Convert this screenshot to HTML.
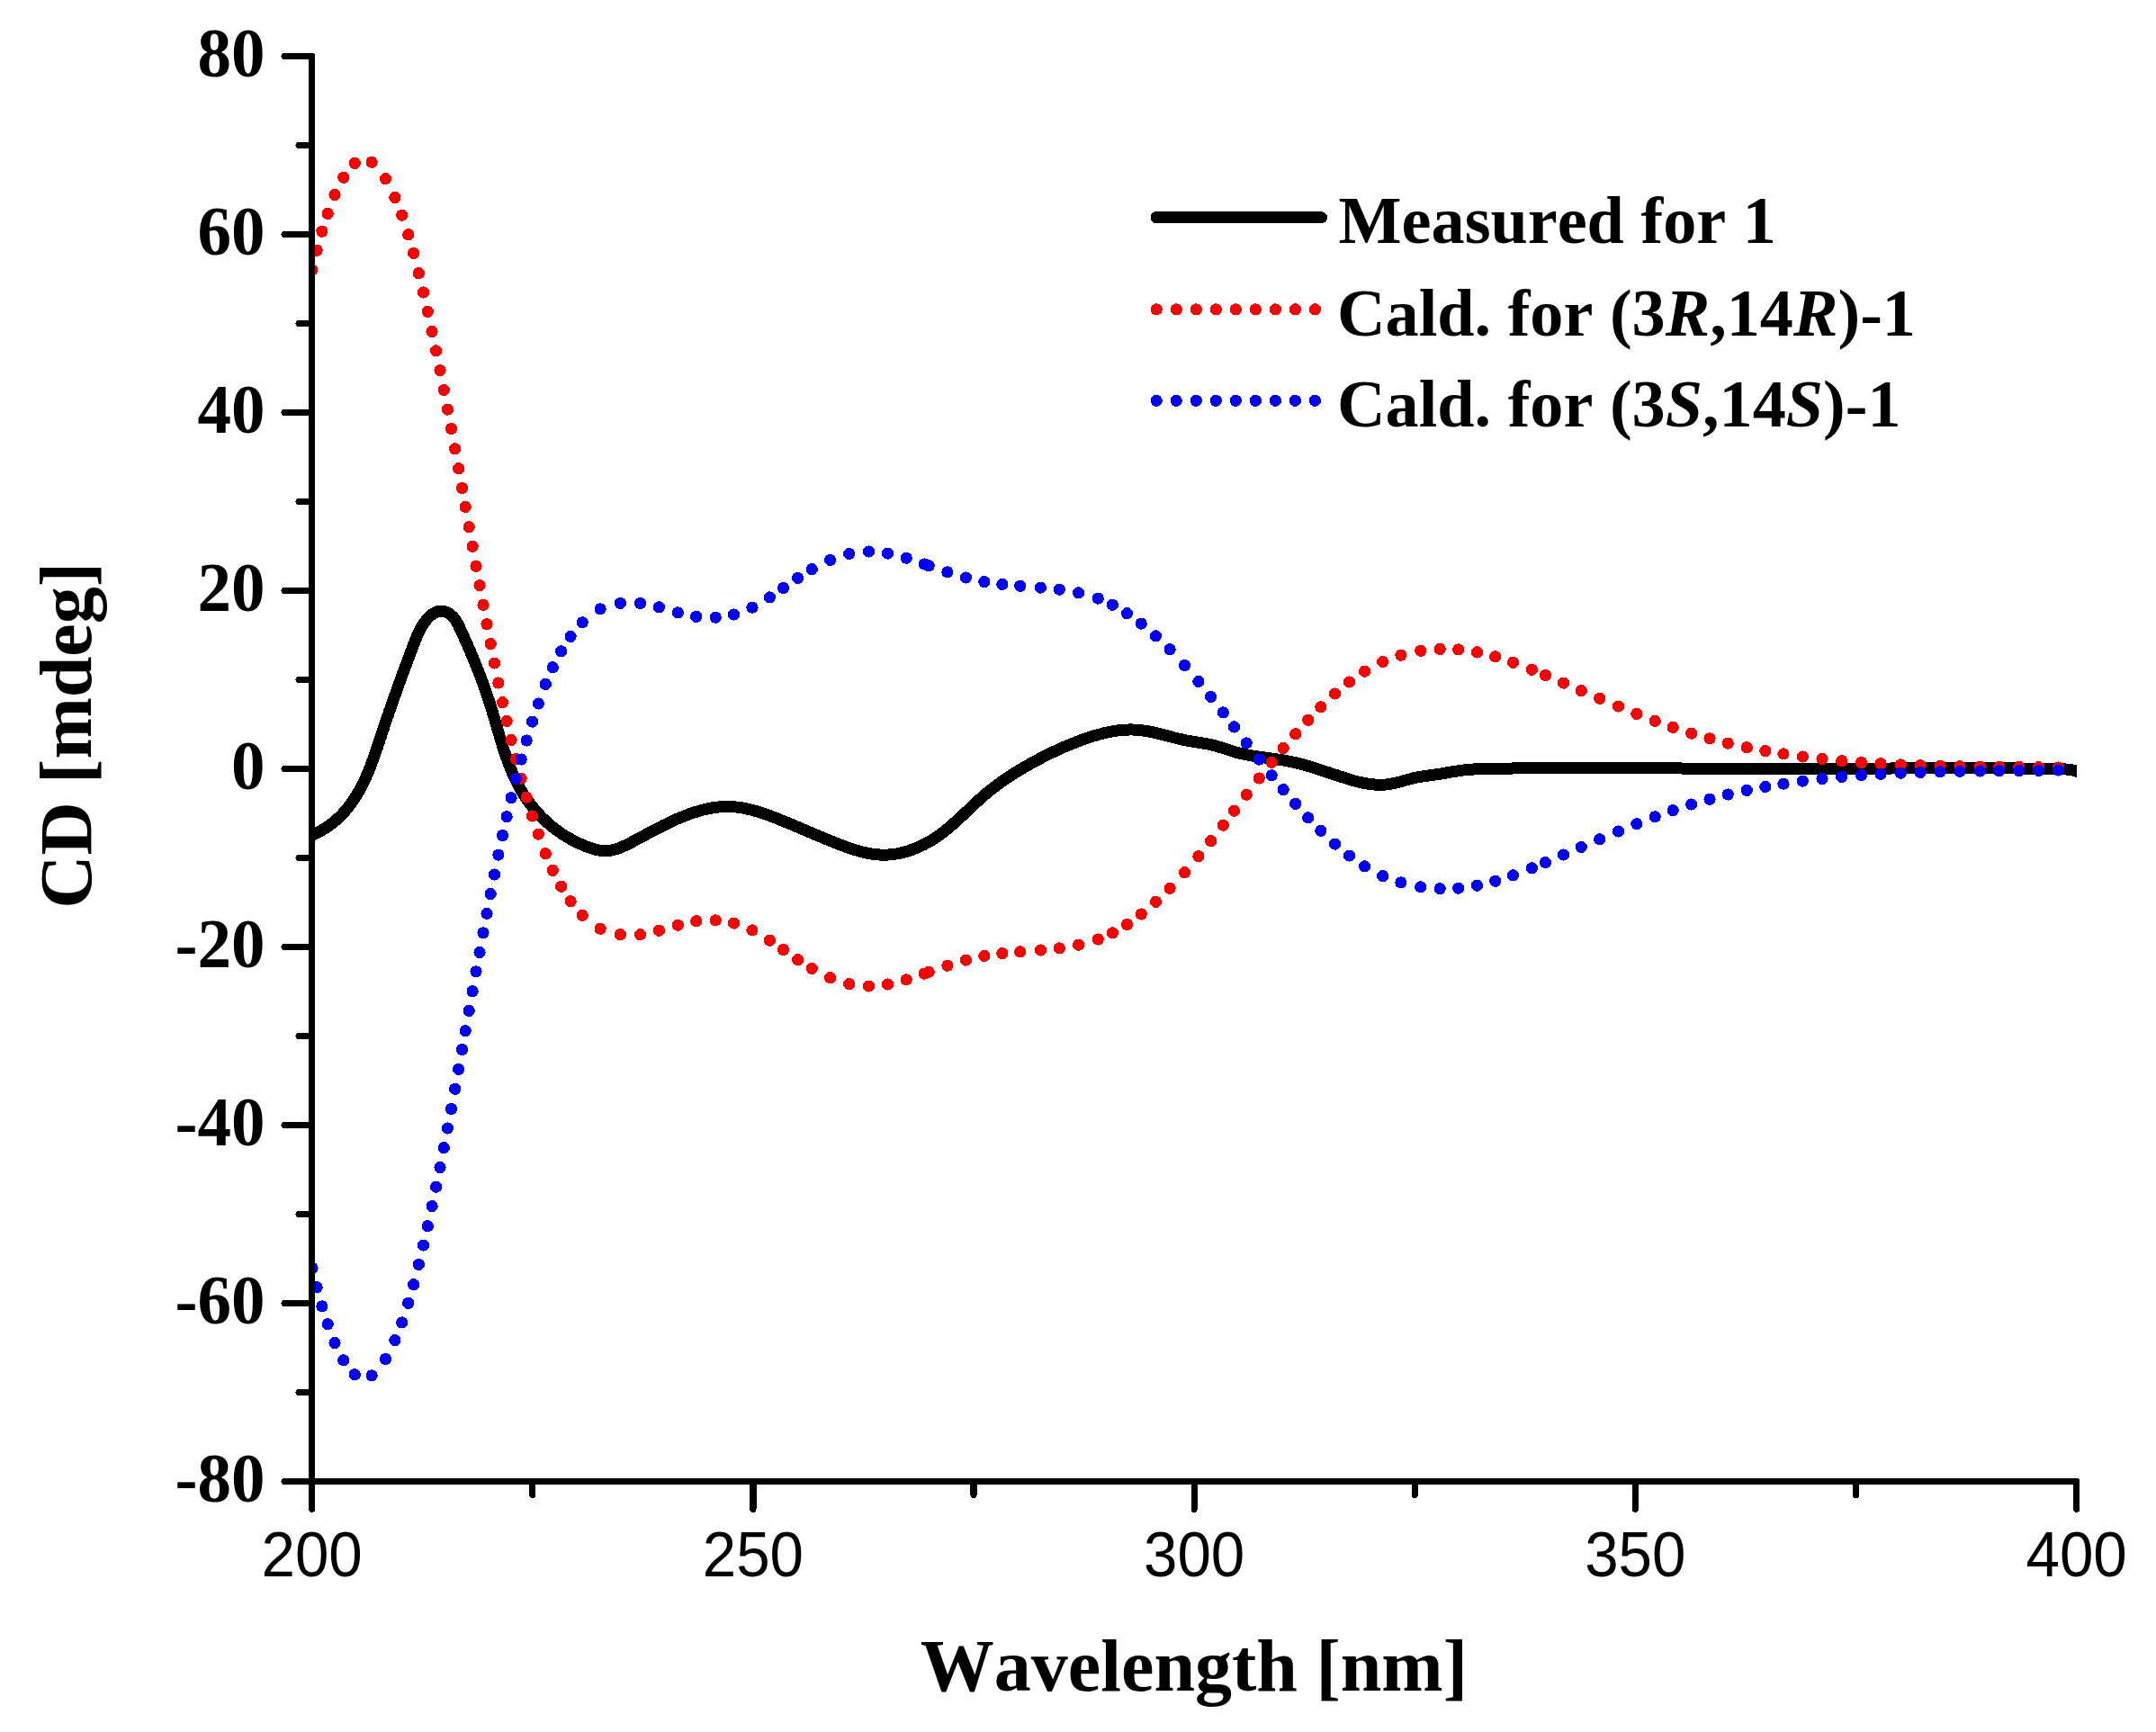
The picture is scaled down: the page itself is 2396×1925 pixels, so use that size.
<!DOCTYPE html>
<html lang="en">
<head>
<meta charset="utf-8">
<title>CD spectrum</title>
<style>
html,body{margin:0;padding:0;background:#fff;}
body{width:2396px;height:1925px;overflow:hidden;}
svg{display:block;font-kerning:none;}
.ser{font-family:"Liberation Serif","Times New Roman",Times,serif;font-weight:bold;}
.san{font-family:"Liberation Sans",Arial,Helvetica,sans-serif;}
</style>
</head>
<body>
<svg width="2396" height="1925" viewBox="0 0 2396 1925">
<rect width="2396" height="1925" fill="#fff"/>
<defs><clipPath id="plot"><rect x="346.6" y="40" width="1961.4" height="1640"/></clipPath></defs>
<g clip-path="url(#plot)" shape-rendering="crispEdges">
<path d="M346.2 928.3 L348.2 927.5 L350.1 926.6 L352 925.7 L353.9 924.8 L355.7 923.8 L357.5 922.8 L359.2 921.8 L361 920.8 L362.7 919.7 L364.3 918.6 L365.9 917.5 L367.5 916.3 L369.1 915.1 L370.6 913.9 L372.1 912.7 L373.6 911.4 L375 910.1 L376.4 908.8 L377.8 907.5 L379.2 906.1 L380.5 904.7 L381.8 903.3 L383.1 901.9 L384.3 900.5 L385.5 899 L386.7 897.5 L387.9 896 L389.1 894.5 L390.2 893 L391.3 891.4 L392.4 889.8 L393.4 888.2 L394.5 886.6 L395.5 885 L396.5 883.3 L397.5 881.7 L398.5 880 L399.4 878.3 L400.3 876.6 L401.2 874.9 L402.1 873.2 L403 871.4 L403.9 869.7 L404.7 867.9 L405.5 866.1 L406.4 864.4 L407.2 862.6 L408 860.8 L408.7 858.9 L409.5 857.1 L410.2 855.3 L411 853.5 L411.7 851.6 L412.4 849.8 L413.1 847.9 L413.8 846 L414.5 844.2 L415.2 842.3 L415.9 840.4 L416.6 838.5 L417.2 836.7 L417.9 834.8 L418.5 832.9 L419.2 831 L419.8 829.1 L420.4 827.2 L421.1 825.3 L421.7 823.4 L422.3 821.5 L423 819.6 L423.6 817.7 L424.2 815.8 L424.8 814 L425.4 812.1 L426.1 810.2 L426.7 808.3 L427.3 806.4 L427.9 804.6 L428.5 802.7 L429.2 800.9 L429.8 799 L430.4 797.1 L431.1 795.3 L431.7 793.5 L432.3 791.6 L432.9 789.8 L433.6 787.9 L434.2 786.1 L434.9 784.3 L435.5 782.4 L436.1 780.6 L436.8 778.8 L437.4 777 L438.1 775.1 L438.7 773.3 L439.4 771.5 L440 769.7 L440.7 767.9 L441.3 766 L442 764.2 L442.6 762.4 L443.3 760.6 L443.9 758.8 L444.6 757 L445.3 755.1 L445.9 753.3 L446.6 751.5 L447.2 749.7 L447.9 747.9 L448.6 746 L449.3 744.2 L449.9 742.4 L450.6 740.6 L451.3 738.7 L452 736.9 L452.7 735.1 L453.3 733.3 L454 731.4 L454.7 729.6 L455.4 727.7 L456.1 725.9 L456.8 724.1 L457.5 722.2 L458.2 720.4 L458.9 718.5 L459.6 716.6 L460.3 714.8 L461 712.9 L461.7 711.1 L462.5 709.2 L463.2 707.4 L464 705.5 L464.9 703.7 L465.7 701.9 L466.6 700.1 L467.6 698.4 L468.6 696.6 L469.6 694.9 L470.7 693.2 L471.9 691.6 L473.1 690 L474.4 688.4 L475.8 686.8 L477.2 685.4 L478.7 684.1 L480.2 682.8 L481.8 681.7 L483.4 680.8 L485.1 680.1 L486.8 679.5 L488.6 679.2 L490.4 679.1 L492.2 679.3 L494 679.7 L495.8 680.2 L497.5 681 L499.2 682 L500.7 683.1 L502.1 684.3 L503.5 685.6 L504.7 687.1 L505.9 688.7 L506.9 690.3 L507.9 692 L508.9 693.7 L509.8 695.5 L510.7 697.4 L511.6 699.2 L512.4 701.1 L513.3 702.9 L514.1 704.8 L515 706.6 L515.8 708.4 L516.6 710.3 L517.4 712.1 L518.2 713.9 L519 715.7 L519.8 717.6 L520.6 719.4 L521.4 721.2 L522.2 723 L523 724.8 L523.7 726.6 L524.5 728.4 L525.3 730.2 L526 732 L526.8 733.8 L527.5 735.7 L528.2 737.5 L529 739.3 L529.7 741.1 L530.4 742.9 L531.1 744.7 L531.8 746.5 L532.5 748.3 L533.2 750.1 L533.9 751.9 L534.6 753.7 L535.3 755.5 L535.9 757.3 L536.6 759.1 L537.3 761 L537.9 762.8 L538.6 764.6 L539.2 766.4 L539.9 768.3 L540.5 770.1 L541.1 771.9 L541.7 773.8 L542.3 775.6 L543 777.4 L543.6 779.3 L544.2 781.1 L544.8 783 L545.3 784.9 L545.9 786.7 L546.5 788.6 L547.1 790.5 L547.6 792.3 L548.2 794.2 L548.8 796.1 L549.3 798 L549.9 799.9 L550.4 801.8 L551 803.7 L551.5 805.6 L552.1 807.5 L552.6 809.4 L553.2 811.3 L553.8 813.2 L554.3 815.1 L554.9 817 L555.4 818.9 L556 820.8 L556.6 822.7 L557.2 824.6 L557.7 826.4 L558.3 828.3 L558.9 830.2 L559.5 832.1 L560.1 834 L560.8 835.9 L561.4 837.7 L562 839.6 L562.7 841.5 L563.3 843.3 L564 845.2 L564.7 847 L565.4 848.9 L566.1 850.7 L566.8 852.5 L567.5 854.3 L568.3 856.1 L569 857.9 L569.8 859.7 L570.6 861.5 L571.4 863.3 L572.2 865.1 L573 866.8 L573.9 868.6 L574.8 870.3 L575.7 872 L576.6 873.8 L577.5 875.5 L578.5 877.2 L579.4 878.8 L580.4 880.5 L581.4 882.2 L582.5 883.8 L583.5 885.4 L584.6 887 L585.7 888.6 L586.8 890.2 L588 891.8 L589.1 893.4 L590.3 894.9 L591.5 896.4 L592.8 898 L594 899.4 L595.3 900.9 L596.5 902.4 L597.8 903.8 L599.2 905.3 L600.5 906.7 L601.9 908.1 L603.3 909.5 L604.7 910.8 L606.1 912.2 L607.5 913.5 L609 914.8 L610.4 916.1 L611.9 917.3 L613.4 918.6 L615 919.8 L616.5 921 L618.1 922.2 L619.7 923.4 L621.3 924.5 L622.9 925.6 L624.5 926.7 L626.2 927.8 L627.8 928.9 L629.5 929.9 L631.2 930.9 L632.9 931.9 L634.7 932.9 L636.4 933.8 L638.2 934.8 L639.9 935.7 L641.7 936.5 L643.5 937.4 L645.3 938.2 L647.2 939 L649 939.8 L650.8 940.6 L652.7 941.3 L654.6 942 L656.5 942.6 L658.3 943.2 L660.2 943.8 L662.1 944.3 L664 944.7 L665.9 945 L667.8 945.3 L669.7 945.5 L671.6 945.6 L673.5 945.6 L675.4 945.5 L677.2 945.3 L679.1 945.1 L681 944.7 L682.8 944.2 L684.7 943.7 L686.5 943.1 L688.4 942.4 L690.2 941.7 L692 940.9 L693.9 940.1 L695.7 939.2 L697.5 938.4 L699.3 937.4 L701.1 936.5 L702.9 935.6 L704.6 934.6 L706.4 933.7 L708.2 932.8 L709.9 931.8 L711.7 930.9 L713.4 929.9 L715.1 929 L716.9 928.1 L718.6 927.1 L720.3 926.2 L722.1 925.3 L723.8 924.4 L725.5 923.5 L727.2 922.6 L728.9 921.7 L730.7 920.8 L732.4 919.9 L734.1 919 L735.9 918.1 L737.6 917.2 L739.3 916.4 L741.1 915.5 L742.8 914.7 L744.6 913.9 L746.3 913 L748.1 912.2 L749.8 911.4 L751.6 910.6 L753.4 909.9 L755.2 909.1 L757 908.3 L758.8 907.6 L760.6 906.9 L762.5 906.2 L764.3 905.5 L766.2 904.8 L768 904.1 L769.9 903.5 L771.8 902.9 L773.7 902.3 L775.6 901.7 L777.5 901.1 L779.4 900.6 L781.3 900.1 L783.2 899.6 L785.1 899.2 L787.1 898.8 L789 898.4 L790.9 898 L792.9 897.7 L794.8 897.4 L796.7 897.2 L798.7 897 L800.6 896.8 L802.5 896.6 L804.5 896.5 L806.4 896.5 L808.4 896.5 L810.3 896.5 L812.2 896.6 L814.2 896.7 L816.1 896.8 L818 897 L819.9 897.2 L821.9 897.5 L823.8 897.8 L825.7 898.1 L827.6 898.5 L829.5 898.9 L831.4 899.3 L833.3 899.7 L835.3 900.2 L837.2 900.7 L839.1 901.2 L840.9 901.8 L842.8 902.3 L844.7 902.9 L846.6 903.5 L848.5 904.1 L850.4 904.8 L852.2 905.4 L854.1 906.1 L856 906.8 L857.8 907.5 L859.7 908.2 L861.5 908.9 L863.4 909.6 L865.2 910.4 L867 911.1 L868.9 911.9 L870.7 912.6 L872.5 913.4 L874.3 914.1 L876.1 914.9 L878 915.6 L879.8 916.4 L881.6 917.1 L883.4 917.9 L885.2 918.7 L886.9 919.4 L888.7 920.2 L890.5 920.9 L892.3 921.7 L894.1 922.5 L895.9 923.2 L897.7 924 L899.4 924.7 L901.2 925.5 L903 926.3 L904.8 927 L906.6 927.8 L908.4 928.5 L910.2 929.3 L912 930 L913.8 930.8 L915.6 931.5 L917.4 932.3 L919.2 933 L921 933.8 L922.8 934.5 L924.6 935.3 L926.4 936 L928.3 936.7 L930.1 937.5 L932 938.2 L933.8 938.9 L935.7 939.6 L937.5 940.3 L939.4 941 L941.2 941.7 L943.1 942.3 L945 943 L946.9 943.6 L948.8 944.2 L950.6 944.8 L952.5 945.3 L954.4 945.9 L956.3 946.4 L958.2 946.9 L960.1 947.3 L962 947.8 L964 948.2 L965.9 948.5 L967.8 948.9 L969.7 949.2 L971.6 949.4 L973.5 949.6 L975.5 949.8 L977.4 950 L979.3 950.1 L981.2 950.1 L983.2 950.1 L985.1 950.1 L987 950 L989 949.9 L990.9 949.7 L992.8 949.4 L994.7 949.2 L996.7 948.9 L998.6 948.5 L1000.5 948.1 L1002.4 947.7 L1004.3 947.2 L1006.2 946.7 L1008.1 946.2 L1010 945.6 L1011.8 944.9 L1013.7 944.3 L1015.6 943.6 L1017.4 942.9 L1019.2 942.1 L1021.1 941.3 L1022.9 940.5 L1024.7 939.6 L1026.4 938.8 L1028.2 937.9 L1030 936.9 L1031.7 936 L1033.4 935 L1035.1 934 L1036.8 932.9 L1038.5 931.9 L1040.1 930.8 L1041.8 929.7 L1043.4 928.5 L1045 927.4 L1046.5 926.2 L1048.1 925 L1049.6 923.8 L1051.2 922.6 L1052.7 921.4 L1054.2 920.1 L1055.7 918.9 L1057.2 917.6 L1058.7 916.3 L1060.1 915 L1061.6 913.7 L1063 912.4 L1064.5 911.1 L1065.9 909.8 L1067.3 908.4 L1068.8 907.1 L1070.2 905.8 L1071.6 904.4 L1073 903.1 L1074.5 901.7 L1075.9 900.4 L1077.3 899 L1078.7 897.7 L1080.1 896.3 L1081.5 895 L1083 893.7 L1084.4 892.3 L1085.8 891 L1087.3 889.7 L1088.7 888.4 L1090.2 887.1 L1091.6 885.8 L1093.1 884.5 L1094.6 883.2 L1096.1 881.9 L1097.6 880.7 L1099.1 879.5 L1100.6 878.2 L1102.2 877 L1103.7 875.8 L1105.3 874.6 L1106.8 873.5 L1108.4 872.3 L1110 871.1 L1111.5 870 L1113.1 868.9 L1114.7 867.7 L1116.4 866.6 L1118 865.5 L1119.6 864.4 L1121.2 863.3 L1122.9 862.3 L1124.5 861.2 L1126.2 860.2 L1127.8 859.1 L1129.5 858.1 L1131.2 857 L1132.8 856 L1134.5 855 L1136.2 854 L1137.9 853 L1139.6 852 L1141.3 851.1 L1143 850.1 L1144.7 849.1 L1146.4 848.2 L1148.1 847.2 L1149.9 846.3 L1151.6 845.4 L1153.3 844.4 L1155 843.5 L1156.8 842.6 L1158.5 841.7 L1160.2 840.8 L1162 839.9 L1163.7 839 L1165.5 838.2 L1167.2 837.3 L1169 836.5 L1170.8 835.6 L1172.5 834.8 L1174.3 834 L1176.1 833.1 L1177.8 832.3 L1179.6 831.5 L1181.4 830.7 L1183.2 830 L1185 829.2 L1186.8 828.4 L1188.6 827.7 L1190.4 826.9 L1192.2 826.2 L1194.1 825.5 L1195.9 824.8 L1197.7 824.1 L1199.6 823.4 L1201.4 822.7 L1203.3 822 L1205.1 821.4 L1207 820.7 L1208.8 820.1 L1210.7 819.5 L1212.6 818.9 L1214.5 818.3 L1216.4 817.7 L1218.3 817.2 L1220.2 816.6 L1222.1 816.1 L1224 815.6 L1225.9 815.1 L1227.8 814.6 L1229.7 814.2 L1231.6 813.8 L1233.5 813.4 L1235.5 813 L1237.4 812.7 L1239.3 812.4 L1241.3 812.1 L1243.2 811.8 L1245.1 811.6 L1247.1 811.4 L1249 811.2 L1250.9 811.1 L1252.9 811 L1254.8 811 L1256.7 810.9 L1258.7 811 L1260.6 811 L1262.5 811.1 L1264.5 811.3 L1266.4 811.4 L1268.3 811.6 L1270.2 811.9 L1272.2 812.2 L1274.1 812.5 L1276 812.8 L1277.9 813.2 L1279.9 813.6 L1281.8 814 L1283.7 814.4 L1285.6 814.9 L1287.5 815.4 L1289.5 815.8 L1291.4 816.3 L1293.3 816.8 L1295.2 817.3 L1297.1 817.8 L1299.1 818.3 L1301 818.8 L1302.9 819.3 L1304.8 819.8 L1306.7 820.3 L1308.7 820.8 L1310.6 821.3 L1312.5 821.7 L1314.4 822.1 L1316.4 822.5 L1318.3 822.9 L1320.2 823.3 L1322.1 823.6 L1324.1 824 L1326 824.3 L1327.9 824.6 L1329.8 824.9 L1331.8 825.2 L1333.7 825.5 L1335.6 825.8 L1337.5 826.1 L1339.4 826.4 L1341.3 826.8 L1343.3 827.1 L1345.2 827.5 L1347 828 L1348.9 828.5 L1350.8 829 L1352.7 829.5 L1354.6 830.1 L1356.4 830.6 L1358.3 831.2 L1360.2 831.8 L1362.1 832.5 L1363.9 833.1 L1365.8 833.7 L1367.7 834.3 L1369.6 834.9 L1371.4 835.4 L1373.3 836 L1375.2 836.5 L1377.1 837 L1379 837.5 L1381 837.9 L1382.9 838.3 L1384.8 838.7 L1386.7 839.1 L1388.7 839.5 L1390.6 839.8 L1392.5 840.1 L1394.5 840.4 L1396.4 840.7 L1398.4 841 L1400.3 841.3 L1402.3 841.6 L1404.2 841.8 L1406.2 842.1 L1408.1 842.4 L1410.1 842.6 L1412 842.9 L1414 843.1 L1415.9 843.4 L1417.8 843.7 L1419.8 844 L1421.7 844.3 L1423.7 844.6 L1425.6 844.9 L1427.5 845.2 L1429.4 845.5 L1431.3 845.9 L1433.2 846.3 L1435.2 846.7 L1437.1 847.1 L1438.9 847.5 L1440.8 848 L1442.7 848.4 L1444.6 848.9 L1446.5 849.4 L1448.4 849.9 L1450.2 850.4 L1452.1 851 L1454 851.5 L1455.8 852.1 L1457.7 852.6 L1459.6 853.2 L1461.4 853.8 L1463.3 854.4 L1465.1 855 L1467 855.6 L1468.9 856.2 L1470.7 856.8 L1472.6 857.4 L1474.4 858 L1476.3 858.6 L1478.2 859.2 L1480 859.9 L1481.9 860.5 L1483.8 861.1 L1485.6 861.7 L1487.5 862.4 L1489.4 863 L1491.3 863.6 L1493.2 864.2 L1495.1 864.8 L1496.9 865.4 L1498.8 866 L1500.7 866.6 L1502.6 867.1 L1504.5 867.7 L1506.4 868.2 L1508.3 868.7 L1510.2 869.1 L1512.2 869.6 L1514.1 870 L1516 870.4 L1517.9 870.8 L1519.8 871.1 L1521.7 871.4 L1523.6 871.6 L1525.6 871.8 L1527.5 872 L1529.4 872.1 L1531.3 872.2 L1533.3 872.3 L1535.2 872.2 L1537.1 872.2 L1539 872.1 L1541 871.9 L1542.9 871.7 L1544.8 871.4 L1546.7 871 L1548.7 870.7 L1550.6 870.2 L1552.5 869.8 L1554.5 869.3 L1556.4 868.8 L1558.3 868.2 L1560.2 867.7 L1562.2 867.1 L1564.1 866.6 L1566 866.1 L1567.9 865.6 L1569.9 865.1 L1571.8 864.6 L1573.7 864.2 L1575.6 863.8 L1577.5 863.5 L1579.5 863.2 L1581.4 862.8 L1583.3 862.5 L1585.2 862.3 L1587.1 862 L1589 861.7 L1591 861.5 L1592.9 861.2 L1594.8 860.9 L1596.7 860.7 L1598.7 860.4 L1600.6 860.1 L1602.5 859.8 L1604.5 859.5 L1606.4 859.1 L1608.3 858.8 L1610.3 858.5 L1612.2 858.1 L1614.2 857.8 L1616.1 857.5 L1618.1 857.2 L1620 856.9 L1622 856.6 L1623.9 856.3 L1625.9 856 L1627.8 855.8 L1629.8 855.6 L1631.7 855.4 L1633.7 855.3 L1635.6 855.1 L1637.6 855 L1639.6 854.9 L1641.5 854.8 L1643.5 854.7 L1645.4 854.7 L1647.4 854.6 L1649.3 854.5 L1651.3 854.5 L1653.2 854.5 L1655.2 854.4 L1657.2 854.4 L1659.1 854.3 L1661.1 854.3 L1663 854.3 L1665 854.2 L1666.9 854.2 L1668.9 854.2 L1670.9 854.1 L1672.8 854.1 L1674.8 854.1 L1676.7 854 L1678.7 854 L1680.6 854 L1682.6 853.9 L1684.6 853.9 L1686.5 853.9 L1688.5 853.9 L1690.4 853.8 L1692.4 853.8 L1694.3 853.8 L1696.3 853.8 L1698.3 853.8 L1700.2 853.7 L1702.2 853.7 L1704.1 853.7 L1706.1 853.7 L1708 853.7 L1710 853.7 L1712 853.6 L1713.9 853.6 L1715.9 853.6 L1717.8 853.6 L1719.8 853.6 L1721.7 853.6 L1723.7 853.6 L1725.7 853.6 L1727.6 853.5 L1729.6 853.5 L1731.5 853.5 L1733.5 853.5 L1735.5 853.5 L1737.4 853.5 L1739.4 853.5 L1741.3 853.5 L1743.3 853.5 L1745.3 853.5 L1747.2 853.5 L1749.2 853.5 L1751.1 853.5 L1753.1 853.5 L1755 853.5 L1757 853.5 L1759 853.5 L1760.9 853.5 L1762.9 853.5 L1764.8 853.5 L1766.8 853.5 L1768.8 853.5 L1770.7 853.5 L1772.7 853.5 L1774.6 853.5 L1776.6 853.5 L1778.6 853.5 L1780.5 853.5 L1782.5 853.5 L1784.4 853.5 L1786.4 853.5 L1788.4 853.5 L1790.3 853.5 L1792.3 853.6 L1794.2 853.6 L1796.2 853.6 L1798.2 853.6 L1800.1 853.6 L1802.1 853.6 L1804 853.6 L1806 853.6 L1807.9 853.6 L1809.9 853.6 L1811.9 853.6 L1813.8 853.6 L1815.8 853.7 L1817.7 853.7 L1819.7 853.7 L1821.7 853.7 L1823.6 853.7 L1825.6 853.7 L1827.5 853.7 L1829.5 853.7 L1831.5 853.7 L1833.4 853.8 L1835.4 853.8 L1837.3 853.8 L1839.3 853.8 L1841.3 853.8 L1843.2 853.8 L1845.2 853.8 L1847.1 853.8 L1849.1 853.8 L1851.1 853.9 L1853 853.9 L1855 853.9 L1856.9 853.9 L1858.9 853.9 L1860.9 853.9 L1862.8 853.9 L1864.8 853.9 L1866.7 853.9 L1868.7 854 L1870.7 854 L1872.6 854 L1874.6 854 L1876.5 854 L1878.5 854 L1880.5 854 L1882.4 854 L1884.4 854 L1886.3 854 L1888.3 854.1 L1890.3 854.1 L1892.2 854.1 L1894.2 854.1 L1896.1 854.1 L1898.1 854.1 L1900.1 854.1 L1902 854.1 L1904 854.1 L1905.9 854.1 L1907.9 854.1 L1909.9 854.1 L1911.8 854.1 L1913.8 854.1 L1915.7 854.2 L1917.7 854.2 L1919.7 854.2 L1921.6 854.2 L1923.6 854.2 L1925.5 854.2 L1927.5 854.2 L1929.4 854.2 L1931.4 854.2 L1933.4 854.2 L1935.3 854.2 L1937.3 854.2 L1939.2 854.2 L1941.2 854.2 L1943.2 854.2 L1945.1 854.2 L1947.1 854.2 L1949 854.2 L1951 854.2 L1953 854.2 L1954.9 854.2 L1956.9 854.2 L1958.8 854.2 L1960.8 854.2 L1962.8 854.2 L1964.7 854.2 L1966.7 854.2 L1968.6 854.2 L1970.6 854.2 L1972.5 854.2 L1974.5 854.2 L1976.5 854.2 L1978.4 854.2 L1980.4 854.2 L1982.3 854.2 L1984.3 854.2 L1986.3 854.2 L1988.2 854.2 L1990.2 854.2 L1992.1 854.2 L1994.1 854.2 L1996.1 854.2 L1998 854.2 L2000 854.2 L2001.9 854.2 L2003.9 854.2 L2005.8 854.2 L2007.8 854.2 L2009.8 854.2 L2011.7 854.2 L2013.7 854.2 L2015.6 854.2 L2017.6 854.2 L2019.6 854.2 L2021.5 854.2 L2023.5 854.2 L2025.4 854.2 L2027.4 854.1 L2029.4 854.1 L2031.3 854.1 L2033.3 854.1 L2035.2 854.1 L2037.2 854.1 L2039.2 854.1 L2041.1 854.1 L2043.1 854.1 L2045 854.1 L2047 854.1 L2048.9 854.1 L2050.9 854.1 L2052.9 854.1 L2054.8 854.1 L2056.8 854.1 L2058.7 854.1 L2060.7 854.1 L2062.7 854.1 L2064.6 854.1 L2066.6 854.1 L2068.5 854 L2070.5 854 L2072.5 854 L2074.4 854 L2076.4 854 L2078.3 854 L2080.3 854 L2082.2 854 L2084.2 854 L2086.2 854 L2088.1 854 L2090.1 854 L2092 854 L2094 854 L2096 854 L2097.9 854 L2099.9 854 L2101.8 854 L2103.8 853.9 L2105.8 853.9 L2107.7 853.9 L2109.7 853.9 L2111.6 853.9 L2113.6 853.9 L2115.6 853.9 L2117.5 853.9 L2119.5 853.9 L2121.4 853.9 L2123.4 853.9 L2125.4 853.9 L2127.3 853.9 L2129.3 853.9 L2131.2 853.9 L2133.2 853.9 L2135.2 853.9 L2137.1 853.9 L2139.1 853.9 L2141 853.9 L2143 853.8 L2144.9 853.8 L2146.9 853.8 L2148.9 853.8 L2150.8 853.8 L2152.8 853.8 L2154.7 853.8 L2156.7 853.8 L2158.7 853.8 L2160.6 853.8 L2162.6 853.8 L2164.5 853.8 L2166.5 853.8 L2168.5 853.8 L2170.4 853.8 L2172.4 853.8 L2174.3 853.8 L2176.3 853.8 L2178.3 853.8 L2180.2 853.8 L2182.2 853.8 L2184.1 853.8 L2186.1 853.8 L2188.1 853.8 L2190 853.8 L2192 853.8 L2193.9 853.8 L2195.9 853.8 L2197.9 853.8 L2199.8 853.8 L2201.8 853.8 L2203.7 853.8 L2205.7 853.8 L2207.7 853.8 L2209.6 853.8 L2211.6 853.8 L2213.5 853.8 L2215.5 853.8 L2217.5 853.8 L2219.4 853.8 L2221.4 853.8 L2223.3 853.8 L2225.3 853.8 L2227.3 853.8 L2229.2 853.8 L2231.2 853.9 L2233.1 853.9 L2235.1 853.9 L2237.1 853.9 L2239 853.9 L2241 853.9 L2242.9 853.9 L2244.9 854 L2246.9 854 L2248.8 854 L2250.8 854 L2252.7 854.1 L2254.7 854.1 L2256.6 854.1 L2258.6 854.1 L2260.6 854.2 L2262.5 854.2 L2264.5 854.2 L2266.4 854.2 L2268.4 854.3 L2270.3 854.3 L2272.3 854.4 L2274.3 854.4 L2276.2 854.4 L2278.2 854.5 L2280.1 854.5 L2282.1 854.6 L2284 854.6 L2286 854.7 L2287.9 854.7 L2289.9 854.8 L2291.9 854.8 L2293.8 854.9 L2295.8 855 L2297.7 855.2 L2299.6 855.4 L2301.6 855.7 L2303.5 856 L2305.4 856.4 L2307.3 856.9 L2309.2 857.6 L2311.1 858.3 L2313 859.1" fill="none" stroke="#000" stroke-width="13" stroke-linejoin="round" stroke-linecap="butt"/>
<g fill="#f00"><circle cx="347" cy="300" r="6.6"/><circle cx="352.1" cy="278.3" r="6.6"/><circle cx="357.9" cy="257.2" r="6.6"/><circle cx="364.2" cy="237.4" r="6.6"/><circle cx="372" cy="216.5" r="6.6"/><circle cx="381.7" cy="197.3" r="6.6"/><circle cx="394.3" cy="181.4" r="6.6"/><circle cx="413.1" cy="180.2" r="6.6"/><circle cx="428.5" cy="198.7" r="6.6"/><circle cx="438.9" cy="219.5" r="6.6"/><circle cx="446.7" cy="239.2" r="6.6"/><circle cx="453.7" cy="260.7" r="6.6"/><circle cx="459.6" cy="281.4" r="6.6"/><circle cx="465.4" cy="303.7" r="6.6"/><circle cx="470.5" cy="325" r="6.6"/><circle cx="475.3" cy="346.4" r="6.6"/><circle cx="480.1" cy="368.5" r="6.6"/><circle cx="484.6" cy="389.9" r="6.6"/><circle cx="489" cy="411.7" r="6.6"/><circle cx="493.3" cy="433.5" r="6.6"/><circle cx="497.4" cy="455.1" r="6.6"/><circle cx="501.5" cy="476.6" r="6.6"/><circle cx="505.6" cy="498.8" r="6.6"/><circle cx="509.6" cy="520.7" r="6.6"/><circle cx="513.5" cy="542.6" r="6.6"/><circle cx="517.2" cy="563.4" r="6.6"/><circle cx="521.2" cy="585.7" r="6.6"/><circle cx="525.1" cy="607.3" r="6.6"/><circle cx="529" cy="629.2" r="6.6"/><circle cx="533" cy="650.7" r="6.6"/><circle cx="537" cy="672.2" r="6.6"/><circle cx="541" cy="693.8" r="6.6"/><circle cx="545.2" cy="715.6" r="6.6"/><circle cx="549.5" cy="737.1" r="6.6"/><circle cx="553.9" cy="759" r="6.6"/><circle cx="558.5" cy="780.7" r="6.6"/><circle cx="563.1" cy="801.4" r="6.6"/><circle cx="568.1" cy="822.4" r="6.6"/><circle cx="573.4" cy="843.6" r="6.6"/><circle cx="579.1" cy="865.1" r="6.6"/><circle cx="585.1" cy="886.1" r="6.6"/><circle cx="591.6" cy="907" r="6.6"/><circle cx="598.3" cy="927.1" r="6.6"/><circle cx="606.3" cy="948.7" r="6.6"/><circle cx="614.3" cy="967.4" r="6.6"/><circle cx="623.6" cy="985.3" r="6.6"/><circle cx="634.1" cy="1001.7" r="6.6"/><circle cx="647.2" cy="1017.3" r="6.6"/><circle cx="667.1" cy="1032.2" r="6.6"/><circle cx="689.4" cy="1038.7" r="6.6"/><circle cx="711.5" cy="1038.7" r="6.6"/><circle cx="732.4" cy="1034.3" r="6.6"/><circle cx="753.3" cy="1028.2" r="6.6"/><circle cx="773.7" cy="1023.7" r="6.6"/><circle cx="795.2" cy="1022.9" r="6.6"/><circle cx="815.6" cy="1026.1" r="6.6"/><circle cx="836" cy="1034" r="6.6"/><circle cx="855.4" cy="1045.2" r="6.6"/><circle cx="870.5" cy="1055.6" r="6.6"/><circle cx="886.6" cy="1066.7" r="6.6"/><circle cx="902.3" cy="1076.5" r="6.6"/><circle cx="922.6" cy="1086.7" r="6.6"/><circle cx="943.7" cy="1093.6" r="6.6"/><circle cx="965.5" cy="1096.1" r="6.6"/><circle cx="986.6" cy="1094" r="6.6"/><circle cx="1007.2" cy="1088.9" r="6.6"/><circle cx="1027.2" cy="1082.1" r="6.6"/><circle cx="1032.2" cy="1080.3" r="6.6"/><circle cx="1052.9" cy="1073.2" r="6.6"/><circle cx="1073.4" cy="1067.1" r="6.6"/><circle cx="1093.8" cy="1062.5" r="6.6"/><circle cx="1113.8" cy="1059.6" r="6.6"/><circle cx="1133.7" cy="1057.8" r="6.6"/><circle cx="1156.4" cy="1056" r="6.6"/><circle cx="1177.3" cy="1053.9" r="6.6"/><circle cx="1198.6" cy="1050.2" r="6.6"/><circle cx="1220.2" cy="1044" r="6.6"/><circle cx="1236.4" cy="1036.8" r="6.6"/><circle cx="1252.5" cy="1027.4" r="6.6"/><circle cx="1268.2" cy="1016" r="6.6"/><circle cx="1284.5" cy="1002.3" r="6.6"/><circle cx="1300.1" cy="987.3" r="6.6"/><circle cx="1316.5" cy="969.7" r="6.6"/><circle cx="1331.9" cy="951.7" r="6.6"/><circle cx="1345.6" cy="934.7" r="6.6"/><circle cx="1359.3" cy="917.2" r="6.6"/><circle cx="1371.5" cy="901.2" r="6.6"/><circle cx="1385.2" cy="883.2" r="6.6"/><circle cx="1399.2" cy="865" r="6.6"/><circle cx="1413.2" cy="847.3" r="6.6"/><circle cx="1426.2" cy="831.5" r="6.6"/><circle cx="1439.7" cy="815.7" r="6.6"/><circle cx="1453.7" cy="800.3" r="6.6"/><circle cx="1467.8" cy="785.8" r="6.6"/><circle cx="1483.6" cy="771" r="6.6"/><circle cx="1499.5" cy="758" r="6.6"/><circle cx="1516.6" cy="746.2" r="6.6"/><circle cx="1536.7" cy="735.5" r="6.6"/><circle cx="1556.9" cy="728.2" r="6.6"/><circle cx="1578.7" cy="723.3" r="6.6"/><circle cx="1600.2" cy="721.4" r="6.6"/><circle cx="1620.7" cy="721.9" r="6.6"/><circle cx="1641.5" cy="724.9" r="6.6"/><circle cx="1661.7" cy="729.8" r="6.6"/><circle cx="1681.5" cy="736.3" r="6.6"/><circle cx="1702.4" cy="744.3" r="6.6"/><circle cx="1717.4" cy="750.5" r="6.6"/><circle cx="1737.6" cy="759.1" r="6.6"/><circle cx="1757.3" cy="767.6" r="6.6"/><circle cx="1777.7" cy="776.3" r="6.6"/><circle cx="1798.5" cy="785.1" r="6.6"/><circle cx="1818.8" cy="793.4" r="6.6"/><circle cx="1839.2" cy="801.3" r="6.6"/><circle cx="1859.2" cy="808.4" r="6.6"/><circle cx="1879.7" cy="815.1" r="6.6"/><circle cx="1900" cy="820.9" r="6.6"/><circle cx="1920.2" cy="826.1" r="6.6"/><circle cx="1941.3" cy="830.7" r="6.6"/><circle cx="1961.8" cy="834.6" r="6.6"/><circle cx="1982" cy="838" r="6.6"/><circle cx="2003.3" cy="841" r="6.6"/><circle cx="2025" cy="843.6" r="6.6"/><circle cx="2046.7" cy="845.7" r="6.6"/><circle cx="2068.6" cy="847.5" r="6.6"/><circle cx="2090" cy="848.8" r="6.6"/><circle cx="2112.3" cy="849.9" r="6.6"/><circle cx="2134.2" cy="850.7" r="6.6"/><circle cx="2156.1" cy="851.3" r="6.6"/><circle cx="2178" cy="851.8" r="6.6"/><circle cx="2200.3" cy="852.1" r="6.6"/><circle cx="2221.8" cy="852.3" r="6.6"/><circle cx="2243.8" cy="852.5" r="6.6"/><circle cx="2265.6" cy="852.7" r="6.6"/><circle cx="2287.5" cy="853" r="6.6"/></g>
<g fill="#00f"><circle cx="347" cy="1409.1" r="6.6"/><circle cx="352.1" cy="1430.8" r="6.6"/><circle cx="357.9" cy="1451.9" r="6.6"/><circle cx="364.2" cy="1471.7" r="6.6"/><circle cx="372" cy="1492.6" r="6.6"/><circle cx="381.7" cy="1511.8" r="6.6"/><circle cx="394.3" cy="1527.7" r="6.6"/><circle cx="413.1" cy="1528.9" r="6.6"/><circle cx="428.5" cy="1510.4" r="6.6"/><circle cx="438.9" cy="1489.6" r="6.6"/><circle cx="446.7" cy="1469.9" r="6.6"/><circle cx="453.7" cy="1448.4" r="6.6"/><circle cx="459.6" cy="1427.7" r="6.6"/><circle cx="465.4" cy="1405.4" r="6.6"/><circle cx="470.5" cy="1384.1" r="6.6"/><circle cx="475.3" cy="1362.7" r="6.6"/><circle cx="480.1" cy="1340.6" r="6.6"/><circle cx="484.6" cy="1319.2" r="6.6"/><circle cx="489" cy="1297.4" r="6.6"/><circle cx="493.3" cy="1275.6" r="6.6"/><circle cx="497.4" cy="1254" r="6.6"/><circle cx="501.5" cy="1232.5" r="6.6"/><circle cx="505.6" cy="1210.3" r="6.6"/><circle cx="509.6" cy="1188.4" r="6.6"/><circle cx="513.5" cy="1166.5" r="6.6"/><circle cx="517.2" cy="1145.7" r="6.6"/><circle cx="521.2" cy="1123.4" r="6.6"/><circle cx="525.1" cy="1101.8" r="6.6"/><circle cx="529" cy="1079.9" r="6.6"/><circle cx="533" cy="1058.4" r="6.6"/><circle cx="537" cy="1036.9" r="6.6"/><circle cx="541" cy="1015.3" r="6.6"/><circle cx="545.2" cy="993.5" r="6.6"/><circle cx="549.5" cy="972" r="6.6"/><circle cx="553.9" cy="950.1" r="6.6"/><circle cx="558.5" cy="928.4" r="6.6"/><circle cx="563.1" cy="907.7" r="6.6"/><circle cx="568.1" cy="886.7" r="6.6"/><circle cx="573.4" cy="865.5" r="6.6"/><circle cx="579.1" cy="844" r="6.6"/><circle cx="585.1" cy="823" r="6.6"/><circle cx="591.6" cy="802.1" r="6.6"/><circle cx="598.3" cy="782" r="6.6"/><circle cx="606.3" cy="760.4" r="6.6"/><circle cx="614.3" cy="741.7" r="6.6"/><circle cx="623.6" cy="723.8" r="6.6"/><circle cx="634.1" cy="707.4" r="6.6"/><circle cx="647.2" cy="691.8" r="6.6"/><circle cx="667.1" cy="676.9" r="6.6"/><circle cx="689.4" cy="670.4" r="6.6"/><circle cx="711.5" cy="670.4" r="6.6"/><circle cx="732.4" cy="674.8" r="6.6"/><circle cx="753.3" cy="680.9" r="6.6"/><circle cx="773.7" cy="685.4" r="6.6"/><circle cx="795.2" cy="686.2" r="6.6"/><circle cx="815.6" cy="683" r="6.6"/><circle cx="836" cy="675.1" r="6.6"/><circle cx="855.4" cy="663.9" r="6.6"/><circle cx="870.5" cy="653.5" r="6.6"/><circle cx="886.6" cy="642.4" r="6.6"/><circle cx="902.3" cy="632.6" r="6.6"/><circle cx="922.6" cy="622.4" r="6.6"/><circle cx="943.7" cy="615.5" r="6.6"/><circle cx="965.5" cy="613" r="6.6"/><circle cx="986.6" cy="615.1" r="6.6"/><circle cx="1007.2" cy="620.2" r="6.6"/><circle cx="1027.2" cy="627" r="6.6"/><circle cx="1032.2" cy="628.8" r="6.6"/><circle cx="1052.9" cy="635.9" r="6.6"/><circle cx="1073.4" cy="642" r="6.6"/><circle cx="1093.8" cy="646.6" r="6.6"/><circle cx="1113.8" cy="649.5" r="6.6"/><circle cx="1133.7" cy="651.3" r="6.6"/><circle cx="1156.4" cy="653.1" r="6.6"/><circle cx="1177.3" cy="655.2" r="6.6"/><circle cx="1198.6" cy="658.9" r="6.6"/><circle cx="1220.2" cy="665.1" r="6.6"/><circle cx="1236.4" cy="672.3" r="6.6"/><circle cx="1252.5" cy="681.7" r="6.6"/><circle cx="1268.2" cy="693.1" r="6.6"/><circle cx="1284.5" cy="706.8" r="6.6"/><circle cx="1300.1" cy="721.8" r="6.6"/><circle cx="1316.5" cy="739.4" r="6.6"/><circle cx="1331.9" cy="757.4" r="6.6"/><circle cx="1345.6" cy="774.4" r="6.6"/><circle cx="1359.3" cy="791.9" r="6.6"/><circle cx="1371.5" cy="807.9" r="6.6"/><circle cx="1385.2" cy="825.9" r="6.6"/><circle cx="1399.2" cy="844.1" r="6.6"/><circle cx="1413.2" cy="861.8" r="6.6"/><circle cx="1426.2" cy="877.6" r="6.6"/><circle cx="1439.7" cy="893.4" r="6.6"/><circle cx="1453.7" cy="908.8" r="6.6"/><circle cx="1467.8" cy="923.3" r="6.6"/><circle cx="1483.6" cy="938.1" r="6.6"/><circle cx="1499.5" cy="951.1" r="6.6"/><circle cx="1516.6" cy="962.9" r="6.6"/><circle cx="1536.7" cy="973.6" r="6.6"/><circle cx="1556.9" cy="980.9" r="6.6"/><circle cx="1578.7" cy="985.8" r="6.6"/><circle cx="1600.2" cy="987.7" r="6.6"/><circle cx="1620.7" cy="987.2" r="6.6"/><circle cx="1641.5" cy="984.2" r="6.6"/><circle cx="1661.7" cy="979.3" r="6.6"/><circle cx="1681.5" cy="972.8" r="6.6"/><circle cx="1702.4" cy="964.8" r="6.6"/><circle cx="1717.4" cy="958.6" r="6.6"/><circle cx="1737.6" cy="950" r="6.6"/><circle cx="1757.3" cy="941.5" r="6.6"/><circle cx="1777.7" cy="932.8" r="6.6"/><circle cx="1798.5" cy="924" r="6.6"/><circle cx="1818.8" cy="915.7" r="6.6"/><circle cx="1839.2" cy="907.8" r="6.6"/><circle cx="1859.2" cy="900.7" r="6.6"/><circle cx="1879.7" cy="894" r="6.6"/><circle cx="1900" cy="888.2" r="6.6"/><circle cx="1920.2" cy="883" r="6.6"/><circle cx="1941.3" cy="878.4" r="6.6"/><circle cx="1961.8" cy="874.5" r="6.6"/><circle cx="1982" cy="871.1" r="6.6"/><circle cx="2003.3" cy="868.1" r="6.6"/><circle cx="2025" cy="865.5" r="6.6"/><circle cx="2046.7" cy="863.4" r="6.6"/><circle cx="2068.6" cy="861.6" r="6.6"/><circle cx="2090" cy="860.3" r="6.6"/><circle cx="2112.3" cy="859.2" r="6.6"/><circle cx="2134.2" cy="858.4" r="6.6"/><circle cx="2156.1" cy="857.8" r="6.6"/><circle cx="2178" cy="857.3" r="6.6"/><circle cx="2200.3" cy="857" r="6.6"/><circle cx="2221.8" cy="856.8" r="6.6"/><circle cx="2243.8" cy="856.6" r="6.6"/><circle cx="2265.6" cy="856.4" r="6.6"/><circle cx="2287.5" cy="856.1" r="6.6"/></g>
</g>
<path d="M346.6 62.5 V1646.6 M346.6 1646.6 H2307.6 M346.6 1646.6 H316 M346.6 1547.6 H332 M346.6 1448.6 H316 M346.6 1349.6 H332 M346.6 1250.6 H316 M346.6 1151.6 H332 M346.6 1052.6 H316 M346.6 953.6 H332 M346.6 854.5 H316 M346.6 755.5 H332 M346.6 656.5 H316 M346.6 557.5 H332 M346.6 458.5 H316 M346.6 359.5 H332 M346.6 260.5 H316 M346.6 161.5 H332 M346.6 62.5 H316 M346.6 1646.6 V1677.2 M591.7 1646.6 V1661.5 M836.9 1646.6 V1677.2 M1082 1646.6 V1661.5 M1327.1 1646.6 V1677.2 M1572.2 1646.6 V1661.5 M1817.3 1646.6 V1677.2 M2062.5 1646.6 V1661.5 M2307.6 1646.6 V1677.2" fill="none" stroke="#000" stroke-width="7.2" stroke-linecap="round" shape-rendering="crispEdges"/>
<g class="ser" font-size="75" text-anchor="end" fill="#000"><text x="0" y="0" transform="translate(294.4 1669.2) scale(1 1.05)">-80</text><text x="0" y="0" transform="translate(294.4 1471.2) scale(1 1.05)">-60</text><text x="0" y="0" transform="translate(294.4 1273.2) scale(1 1.05)">-40</text><text x="0" y="0" transform="translate(294.4 1075.2) scale(1 1.05)">-20</text><text x="0" y="0" transform="translate(294.4 877.1) scale(1 1.05)">0</text><text x="0" y="0" transform="translate(294.4 679.1) scale(1 1.05)">20</text><text x="0" y="0" transform="translate(294.4 481.1) scale(1 1.05)">40</text><text x="0" y="0" transform="translate(294.4 283.1) scale(1 1.05)">60</text><text x="0" y="0" transform="translate(294.4 85.1) scale(1 1.05)">80</text></g>
<g class="san" font-size="68" text-anchor="middle" fill="#000"><text transform="translate(346.6 1752) scale(0.99 1.043)">200</text><text transform="translate(836.9 1752) scale(0.99 1.043)">250</text><text transform="translate(1327.1 1752) scale(0.99 1.043)">300</text><text transform="translate(1817.3 1752) scale(0.99 1.043)">350</text><text transform="translate(2307.6 1752) scale(0.99 1.043)">400</text></g>
<text class="ser" font-size="82" text-anchor="middle" x="1326.9" y="1879">Wavelength [nm]</text>
<text class="ser" font-size="82" text-anchor="middle" transform="translate(101.4 817.4) rotate(-90)">CD [mdeg]</text>
<g shape-rendering="crispEdges">
<path d="M1285 241.7 H1468.5" stroke="#000" stroke-width="13" stroke-linecap="round" fill="none"/>
<path d="M1285.2 343.9 H1462" stroke="#f00" stroke-width="13.2" stroke-linecap="round" stroke-dasharray="0 22.03" fill="none"/>
<path d="M1285.2 445.3 H1462" stroke="#00f" stroke-width="13.2" stroke-linecap="round" stroke-dasharray="0 22.03" fill="none"/>
<g class="ser" font-size="74.2" fill="#000">
<text x="1487.6" y="270.3">Measured for 1</text>
<text x="1486" y="372.5">Cald. for (3<tspan font-style="italic">R</tspan>,14<tspan font-style="italic">R</tspan>)-1</text>
<text x="1486" y="473.9">Cald. for (3<tspan font-style="italic">S</tspan>,14<tspan font-style="italic">S</tspan>)-1</text>
</g>
</g>
</svg>
</body>
</html>
